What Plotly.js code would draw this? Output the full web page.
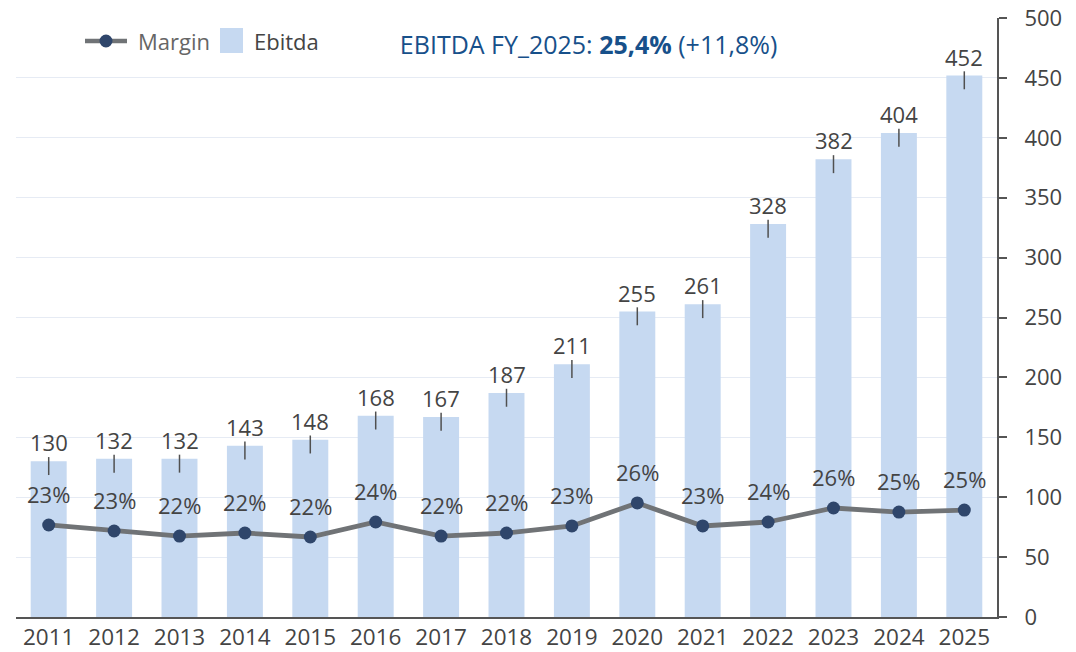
<!DOCTYPE html>
<html>
<head>
<meta charset="utf-8">
<script src="https://cdn.plot.ly/plotly-3.0.1.min.js"></script>
<style>html,body{margin:0;padding:0;background:#fff;}#chart{width:1076px;height:652px;}</style>
</head>
<body>
<div id="chart"></div>
<script>
var years = [2011,2012,2013,2014,2015,2016,2017,2018,2019,2020,2021,2022,2023,2024,2025];
var ebitda = [130,132,132,143,148,168,167,187,211,255,261,328,382,404,452];
var margin = [23.45,22.66,22.0,22.4,21.88,23.84,22.0,22.4,23.32,26.33,23.32,23.84,25.67,25.14,25.4];
var seriesNames = ['Margin', 'Ebitda'];
var titleText = 'EBITDA FY_2025: <b>25,4%</b> (+11,8%)';

var FONT = 'Open Sans, Noto Sans, sans-serif';
var TXT = '#444444';
var LINE_C = '#707376', MARK_C = '#2f466b', BAR_C = '#c6d9f1';

// plot area in pixels: left 16, right 997, top 18, bottom 617
function px(x) { return (x - 16) / 981; }
function py(y) { return (617 - y) / 599; }

var traces = [
  {
    type: 'scatter', mode: 'lines+markers', name: seriesNames[0],
    x: years, y: margin, yaxis: 'y2',
    line: {color: LINE_C, width: 4.8},
    marker: {color: MARK_C, size: 13},
    hoverinfo: 'x+y'
  },
  {
    type: 'bar', name: seriesNames[1],
    x: years, y: ebitda,
    marker: {color: BAR_C},
    error_y: {type: 'constant', symmetric: false, value: 3.5, valueminus: 11.5,
              color: '#505050', thickness: 1.5, width: 0}
  }
];

var annotations = [];
years.forEach(function (yr, i) {
  annotations.push({
    x: yr, y: ebitda[i], xref: 'x', yref: 'y', text: String(ebitda[i]),
    showarrow: false, yanchor: 'middle', yshift: 19,
    font: {family: FONT, size: 22, color: TXT}
  });
  annotations.push({
    x: yr, y: margin[i], xref: 'x', yref: 'y2', text: Math.round(margin[i]) + '%',
    showarrow: false, yanchor: 'middle', yshift: 31,
    font: {family: FONT, size: 22, color: TXT}
  });
});

// custom legend
annotations.push({
  xref: 'paper', yref: 'paper', x: px(136), y: py(41), xanchor: 'left', yanchor: 'middle',
  text: seriesNames[0], showarrow: false, font: {family: FONT, size: 22, color: '#666666'}
});
annotations.push({
  xref: 'paper', yref: 'paper', x: px(252), y: py(41), xanchor: 'left', yanchor: 'middle',
  text: seriesNames[1], showarrow: false, font: {family: FONT, size: 22, color: TXT}
});

var shapes = [
  {type: 'rect', xref: 'paper', yref: 'paper', x0: px(73), x1: px(220), y0: py(58), y1: py(8),
   fillcolor: '#ffffff', line: {width: 0}, layer: 'above'},
  {type: 'line', xref: 'paper', yref: 'paper', x0: px(85), x1: px(127), y0: py(41), y1: py(41),
   line: {color: LINE_C, width: 4.5}, layer: 'above'},
  {type: 'circle', xref: 'paper', yref: 'paper', x0: px(99.5), x1: px(112.5), y0: py(47.5), y1: py(34.5),
   fillcolor: MARK_C, line: {width: 0}, layer: 'above'},
  {type: 'rect', xref: 'paper', yref: 'paper', x0: px(220), x1: px(243), y0: py(53), y1: py(28),
   fillcolor: BAR_C, line: {width: 0}, layer: 'above'}
];

var layout = {
  width: 1076, height: 652,
  margin: {l: 16, r: 79, t: 18, b: 35, pad: 0},
  paper_bgcolor: '#ffffff', plot_bgcolor: '#ffffff',
  font: {family: FONT, size: 22, color: TXT},
  title: {
    text: titleText, x: 0.547, xanchor: 'center', xref: 'container',
    y: 0.931, yanchor: 'middle', yref: 'container',
    font: {family: FONT, size: 25, color: '#17508a'}
  },
  bargap: 0.45,
  showlegend: false,
  xaxis: {
    type: 'linear', range: [2010.5, 2025.5], dtick: 1, tick0: 2011, tickformat: 'd',
    showline: true, linecolor: '#555555', linewidth: 2,
    ticks: '', showgrid: false, zeroline: false,
    tickfont: {family: FONT, size: 22.5, color: TXT}, ticklabelstandoff: -1,
    fixedrange: true
  },
  yaxis: {
    side: 'right', range: [0, 500], dtick: 50, showline: true, linecolor: '#555555',
    linewidth: 2, ticks: 'outside', ticklen: 8, tickwidth: 2, tickcolor: '#555555',
    gridcolor: '#e6ebf4', gridwidth: 1, zeroline: false,
    tickfont: {family: FONT, size: 22, color: TXT}, ticklabelstandoff: 13,
    fixedrange: true
  },
  yaxis2: {
    overlaying: 'y', side: 'left', range: [11.41, 89.78], visible: false,
    showgrid: false, zeroline: false, fixedrange: true
  },
  annotations: annotations,
  shapes: shapes
};

Plotly.newPlot('chart', traces, layout, {displayModeBar: false, staticPlot: true});
</script>
</body>
</html>
